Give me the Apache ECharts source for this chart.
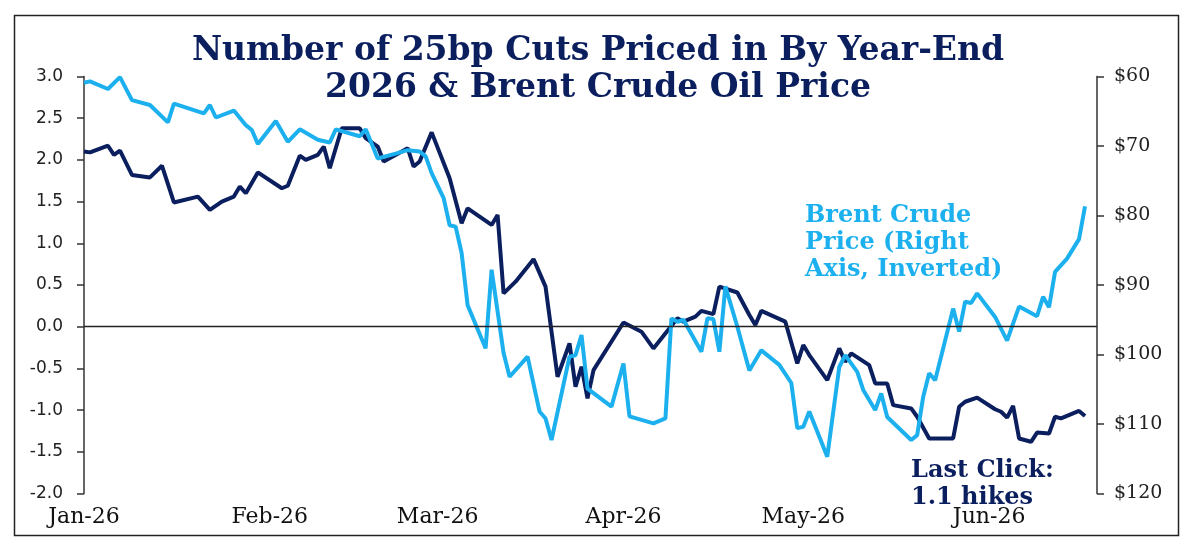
<!DOCTYPE html>
<html>
<head>
<meta charset="utf-8">
<script src="https://cdn.jsdelivr.net/npm/echarts@6/dist/echarts.min.js"></script>
<style>
  html, body { margin: 0; padding: 0; background: #fff; }
  #chart { width: 1196px; height: 551px; }
</style>
</head>
<body>
<div id="chart"></div>
<script>
// month ticks on the x axis
const monthStarts = ['2026-01-01', '2026-02-01', '2026-03-01', '2026-04-01', '2026-05-01', '2026-06-01']
const monthLabels = ['Jan-26', 'Feb-26', 'Mar-26', 'Apr-26', 'May-26', 'Jun-26']

// number of 25bp cuts priced in by year-end 2026 (left axis)
const cutsDates = [
  '2026-01-01', '2026-01-02', '2026-01-05', '2026-01-06', '2026-01-07', '2026-01-09', '2026-01-12', '2026-01-14',
  '2026-01-16', '2026-01-20', '2026-01-22', '2026-01-24', '2026-01-26', '2026-01-27', '2026-01-28', '2026-01-30',
  '2026-02-03', '2026-02-04', '2026-02-06', '2026-02-07', '2026-02-09', '2026-02-10', '2026-02-11', '2026-02-13',
  '2026-02-16', '2026-02-17', '2026-02-19', '2026-02-20', '2026-02-24', '2026-02-25', '2026-02-26', '2026-02-28',
  '2026-03-03', '2026-03-05', '2026-03-06', '2026-03-10', '2026-03-11', '2026-03-12', '2026-03-14', '2026-03-17',
  '2026-03-19', '2026-03-21', '2026-03-23', '2026-03-24', '2026-03-25', '2026-03-26', '2026-03-27', '2026-04-01',
  '2026-04-04', '2026-04-06', '2026-04-10', '2026-04-11', '2026-04-13', '2026-04-14', '2026-04-16', '2026-04-17',
  '2026-04-20', '2026-04-22', '2026-04-23', '2026-04-24', '2026-04-28', '2026-04-30', '2026-05-01', '2026-05-02',
  '2026-05-05', '2026-05-07', '2026-05-08', '2026-05-09', '2026-05-12', '2026-05-13', '2026-05-15', '2026-05-16',
  '2026-05-19', '2026-05-20', '2026-05-22', '2026-05-26', '2026-05-27', '2026-05-28', '2026-05-30', '2026-06-02',
  '2026-06-03', '2026-06-04', '2026-06-05', '2026-06-06', '2026-06-08', '2026-06-09', '2026-06-11', '2026-06-12',
  '2026-06-13', '2026-06-16', '2026-06-17'
]
const cutsValues = [
  2.10, 2.09, 2.17, 2.06, 2.11, 1.82, 1.79, 1.93,
  1.49, 1.56, 1.40, 1.50, 1.56, 1.68, 1.60, 1.85,
  1.66, 1.69, 2.05, 2.00, 2.06, 2.16, 1.90, 2.38,
  2.38, 2.26, 2.16, 1.98, 2.14, 1.92, 1.98, 2.33,
  1.78, 1.24, 1.42, 1.22, 1.34, 0.40, 0.54, 0.81,
  0.48, -0.60, -0.20, -0.72, -0.48, -0.86, -0.52, 0.05,
  -0.06, -0.26, 0.10, 0.06, 0.12, 0.19, 0.15, 0.48,
  0.41, 0.14, 0.02, 0.19, 0.06, -0.44, -0.22, -0.34,
  -0.64, -0.26, -0.42, -0.32, -0.46, -0.68, -0.68, -0.94,
  -0.98, -1.08, -1.34, -1.34, -0.96, -0.90, -0.85, -0.99,
  -1.02, -1.09, -0.95, -1.34, -1.38, -1.27, -1.28, -1.08,
  -1.10, -1.01, -1.07
]

// brent crude oil price, $ (right axis, inverted)
const brentDates = [
  '2026-01-01', '2026-01-02', '2026-01-05', '2026-01-07', '2026-01-09', '2026-01-12', '2026-01-15', '2026-01-16',
  '2026-01-21', '2026-01-22', '2026-01-23', '2026-01-26', '2026-01-28', '2026-01-29', '2026-01-30', '2026-02-02',
  '2026-02-04', '2026-02-06', '2026-02-09', '2026-02-11', '2026-02-12', '2026-02-16', '2026-02-17', '2026-02-19',
  '2026-02-22', '2026-02-24', '2026-02-26', '2026-02-27', '2026-02-28', '2026-03-02', '2026-03-03', '2026-03-04',
  '2026-03-05', '2026-03-06', '2026-03-09', '2026-03-10', '2026-03-12', '2026-03-13', '2026-03-16', '2026-03-18',
  '2026-03-19', '2026-03-20', '2026-03-23', '2026-03-24', '2026-03-25', '2026-03-26', '2026-03-30', '2026-04-01',
  '2026-04-02', '2026-04-06', '2026-04-08', '2026-04-09', '2026-04-10', '2026-04-11', '2026-04-14', '2026-04-15',
  '2026-04-16', '2026-04-17', '2026-04-18', '2026-04-20', '2026-04-22', '2026-04-24', '2026-04-27', '2026-04-29',
  '2026-04-30', '2026-05-01', '2026-05-02', '2026-05-05', '2026-05-07', '2026-05-08', '2026-05-10', '2026-05-11',
  '2026-05-13', '2026-05-14', '2026-05-15', '2026-05-19', '2026-05-20', '2026-05-21', '2026-05-22', '2026-05-23',
  '2026-05-26', '2026-05-27', '2026-05-28', '2026-05-29', '2026-05-30', '2026-06-02', '2026-06-04', '2026-06-06',
  '2026-06-09', '2026-06-10', '2026-06-11', '2026-06-12', '2026-06-14', '2026-06-16', '2026-06-17'
]
const brentValues = [
  60.9, 60.7, 61.8, 60.1, 63.4, 64.1, 66.6, 63.9,
  65.3, 64.1, 65.9, 64.9, 67.0, 67.7, 69.7, 66.4,
  69.4, 67.6, 69.1, 69.5, 67.6, 68.6, 67.6, 71.8,
  71.1, 70.6, 70.8, 71.5, 73.9, 77.5, 81.4, 81.6,
  85.4, 92.9, 99.1, 87.8, 99.8, 103.2, 100.3, 108.2,
  109.2, 112.3, 100.3, 100.1, 97.2, 104.9, 107.5, 101.3,
  108.9, 109.9, 109.2, 94.8, 95.3, 95.0, 99.6, 94.8,
  94.9, 99.6, 90.2, 96.0, 102.3, 99.4, 101.5, 104.1,
  110.6, 110.4, 108.2, 114.7, 101.8, 100.1, 102.5, 105.1,
  108.0, 105.6, 109.0, 112.3, 111.6, 106.1, 102.7, 103.7,
  93.4, 96.7, 92.4, 92.6, 91.2, 94.6, 98.0, 93.1,
  94.5, 91.7, 93.2, 88.1, 86.2, 83.4, 78.7
]

const navy = '#0b1f5e'
const sky = '#1cb0ee'
const serif = 'DejaVu Serif'

function toTime(s) {
  const p = s.split('-').map(Number)
  return new Date(p[0], p[1] - 1, p[2]).getTime()
}
const monthTimes = monthStarts.map(toTime)

const chart = echarts.init(document.getElementById('chart'))

const option = {
  animation: false,
  backgroundColor: '#fff',
  title: {
    text: 'Number of 25bp Cuts Priced in By Year-End\n2026 & Brent Crude Oil Price',
    left: 'center',
    top: 28,
    textStyle: {
      fontFamily: serif,
      fontWeight: 'bold',
      fontSize: 33,
      lineHeight: 37,
      color: navy
    }
  },
  grid: { left: 84, right: 99, top: 76.5, bottom: 57.5, containLabel: false },
  // dates on a plain value axis (timestamps) so the month labels can sit on the 1st of each month
  xAxis: {
    type: 'value',
    min: toTime('2026-01-01'),
    max: toTime('2026-06-19'),
    axisLine: { show: false },
    axisTick: { show: false },
    splitLine: { show: false },
    axisLabel: {
      customValues: monthTimes,
      formatter: (v) => {
        const i = monthTimes.findIndex(t => Math.abs(t - v) < 3600000 * 12)
        return i >= 0 ? monthLabels[i] : ''
      },
      fontFamily: serif,
      fontSize: 22,
      color: '#111',
      margin: 13
    }
  },
  yAxis: [
    {
      type: 'value',
      min: -2,
      max: 3,
      interval: 0.5,
      position: 'left',
      axisLine: { show: true, lineStyle: { color: '#333', width: 1.5 } },
      axisTick: { show: true, length: 7, lineStyle: { color: '#333', width: 1.5 } },
      splitLine: { show: false },
      axisLabel: {
        formatter: (v) => v.toFixed(1),
        fontFamily: 'DejaVu Sans',
        fontSize: 17,
        color: '#222',
        margin: 21
      }
    },
    {
      type: 'value',
      min: 60,
      max: 120,
      interval: 10,
      inverse: true,
      position: 'right',
      axisLine: { show: true, lineStyle: { color: '#333', width: 1.5 } },
      axisTick: { show: true, length: 7, lineStyle: { color: '#333', width: 1.5 } },
      splitLine: { show: false },
      axisLabel: {
        formatter: (v) => '$' + v,
        fontFamily: serif,
        fontSize: 19,
        color: '#222',
        margin: 17
      }
    }
  ],
  series: [
    {
      name: 'Cuts priced',
      type: 'line',
      yAxisIndex: 0,
      data: cutsDates.map((d, i) => [toTime(d), cutsValues[i]]),
      showSymbol: false,
      lineStyle: { color: navy, width: 4 },
      itemStyle: { color: navy },
      markLine: {
        silent: true,
        symbol: 'none',
        label: { show: false },
        lineStyle: { color: '#222', width: 1.3, type: 'solid' },
        data: [{ yAxis: 0 }]
      }
    },
    {
      name: 'Brent',
      type: 'line',
      yAxisIndex: 1,
      data: brentDates.map((d, i) => [toTime(d), brentValues[i]]),
      showSymbol: false,
      lineStyle: { color: sky, width: 4 },
      itemStyle: { color: sky }
    }
  ],
  graphic: [
    {
      type: 'rect',
      shape: { x: 14.5, y: 15.5, width: 1164, height: 520 },
      style: { fill: 'none', stroke: '#222', lineWidth: 1.5 },
      silent: true
    },
    {
      type: 'text',
      left: 805,
      top: 202,
      style: {
        text: 'Brent Crude\nPrice (Right\nAxis, Inverted)',
        font: 'bold 24px "DejaVu Serif"',
        lineHeight: 27,
        fill: sky
      }
    },
    {
      type: 'text',
      left: 911,
      top: 457,
      style: {
        text: 'Last Click:\n1.1 hikes',
        font: 'bold 24px "DejaVu Serif"',
        lineHeight: 27,
        fill: navy
      }
    }
  ]
}

chart.setOption(option)
window.addEventListener('resize', () => chart.resize())
</script>
</body>
</html>
